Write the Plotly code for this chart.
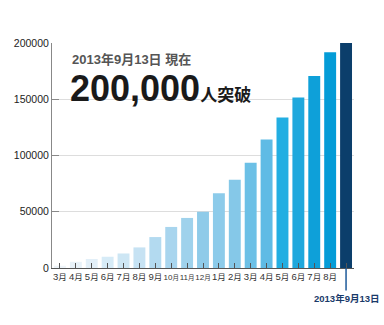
import plotly.graph_objects as go

categories = ["3月", "4月", "5月", "6月", "7月", "8月", "9月", "10月", "11月", "12月",
              "1月", "2月", "3月", "4月", "5月", "6月", "7月", "8月", "2013年9月13日"]
values = [2000, 5500, 8000, 10000, 12900, 18300, 27500, 36500, 44500, 50000,
          66500, 78400, 93500, 114200, 133700, 151500, 170700, 191700, 200000]
colors = ["#eef4f9", "#e8f2f9", "#e2eff8", "#d6ebf7", "#cde6f4", "#c6e2f3", "#b3daf0",
          "#a8d5ee", "#9fd2ec", "#8fcbe9", "#8ccbea", "#85c8e8", "#6cc0e6", "#5fbbe5",
          "#22aee2", "#1fa8dd", "#0ea0d9", "#049cd7", "#0b3e6b"]
y_ticks = [0, 50000, 100000, 150000, 200000]

JP = "Liberation Sans, Noto Sans CJK JP"


def fmt_month(label):
    # squeeze the month labels so they fit in the narrow columns
    num = label[:-1]
    if len(num) >= 2:
        return f"<span style='font-size:8px'>{num}</span><span style='font-size:6.5px'>月</span>"
    return f"{num}<span style='font-size:8.5px'>月</span>"


tick_labels = [fmt_month(c) for c in categories[:-1]] + [""]

idx = list(range(len(categories)))
fig = go.Figure(go.Bar(x=idx, y=values, marker=dict(color=colors, line=dict(width=0)),
                       hoverinfo="skip"))

fig.update_layout(
    width=384, height=325,
    margin=dict(l=52, r=30, t=43, b=57),
    plot_bgcolor="white", paper_bgcolor="white",
    bargap=0.25, showlegend=False,
    font=dict(family=JP, color="#333", size=11),
)
fig.update_xaxes(
    range=[-0.5, len(categories) - 0.5],
    tickmode="array", tickvals=idx, ticktext=tick_labels,
    tickangle=0, tickfont=dict(size=9.5, color="#333", family=JP),
    showline=True, linecolor="#555", linewidth=1,
    ticks="inside", ticklen=5, tickcolor="#555", tickson="boundaries",
    showgrid=False, zeroline=False, fixedrange=True,
)
fig.update_yaxes(
    range=[0, 200000], tickmode="array", tickvals=y_ticks,
    ticktext=[str(v) for v in y_ticks],
    tickfont=dict(size=10.5, color="#222", family=JP),
    showline=True, linecolor="#888", linewidth=1,
    ticks="inside", ticklen=7, tickcolor="#888",
    showgrid=True, gridcolor="#dddddd", gridwidth=1, zeroline=False, fixedrange=True,
)

# marker line under the last bar
last = len(categories) - 1
fig.add_shape(type="line", xref="x", yref="paper", x0=last, x1=last, y0=0, y1=-0.1,
              line=dict(color="#1d5a9a", width=1.5))
fig.add_annotation(x=last, xref="x", y=-0.1, yref="paper", text="<b>" + categories[-1] + "</b>",
                   showarrow=False, yanchor="top", xanchor="center",
                   font=dict(size=9.5, color="#1a3a6a", family=JP))

# headline texts
fig.add_annotation(x=0.058, xref="paper", y=0.925, yref="paper",
                   text="<b>2013年9月13日 現在</b>", showarrow=False,
                   xanchor="left", yanchor="middle",
                   font=dict(size=13, color="#555", family=JP))
fig.add_annotation(x=0.052, xref="paper", y=0.80, yref="paper",
                   text="<b>200,000</b><span style='font-size:17px'><b>人突破</b></span>",
                   showarrow=False, xanchor="left", yanchor="middle",
                   font=dict(size=36, color="#1a1a1a", family=JP))

fig.write_html("out.html")
